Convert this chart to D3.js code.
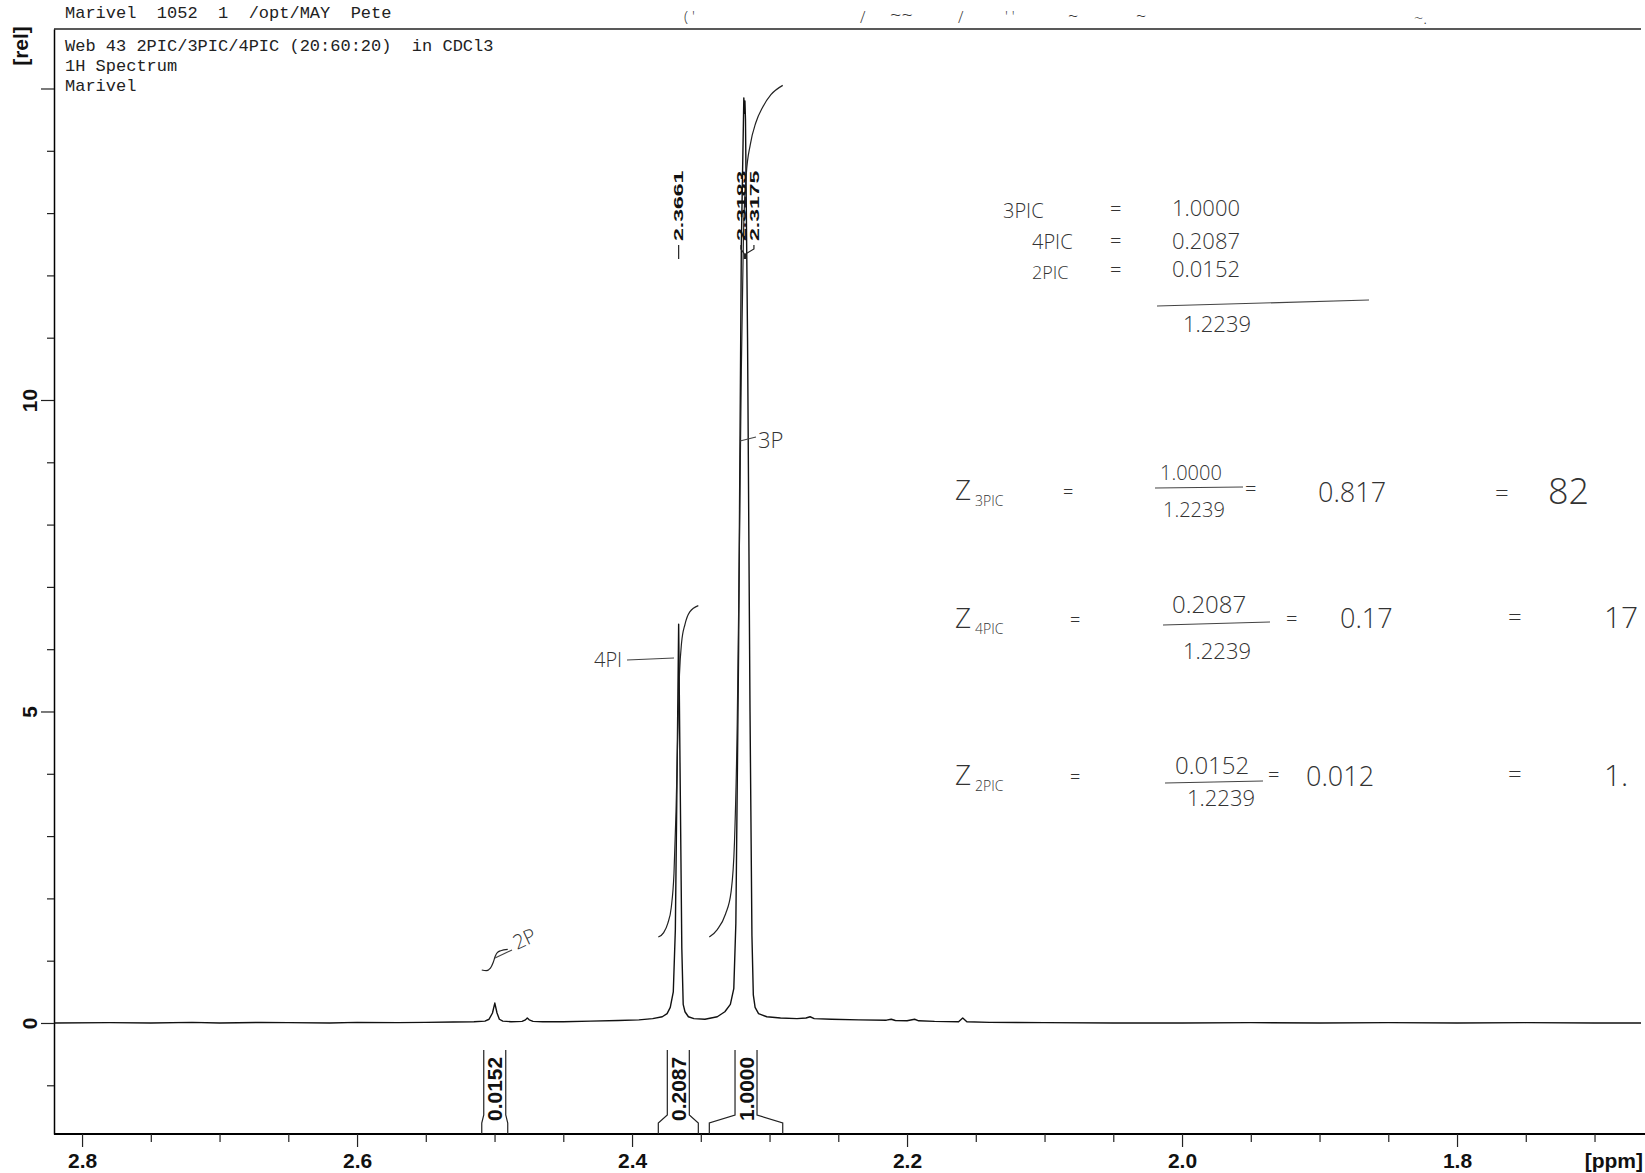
<!DOCTYPE html>
<html>
<head>
<meta charset="utf-8">
<script src="https://cdn.jsdelivr.net/npm/d3@7"></script>
<style>
  body { margin: 0; background: #fff; }
  svg { display: block; }
  .mono { font-family: "Liberation Mono", "DejaVu Sans Mono", monospace; font-size: 17px; fill: #222; white-space: pre; }
  .lab { font-family: "Liberation Sans", Arial, sans-serif; font-weight: bold; fill: #111; }
  .hand { font-family: "Open Sans", sans-serif; font-weight: 300; fill: #333; white-space: pre; }
</style>
</head>
<body>
<div id="viz-container"></div>
<script>

// spectrum trace (ppm, rel. intensity)
var specPpm = [2.8204, 2.78, 2.75, 2.72, 2.70, 2.67, 2.65, 2.62, 2.60, 2.57, 2.55, 2.53, 2.515, 2.507,
  2.504, 2.5015, 2.4998, 2.4982, 2.4965, 2.494, 2.488, 2.480, 2.4775, 2.4762, 2.4748, 2.472, 2.465,
  2.45, 2.43, 2.41, 2.395, 2.385, 2.378, 2.3745, 2.3722, 2.370, 2.3685, 2.3672, 2.3661, 2.3650, 2.3638,
  2.3628, 2.3615, 2.359, 2.355, 2.347, 2.338, 2.3325, 2.3285, 2.326, 2.3245, 2.3225, 2.3205, 2.3187,
  2.3183, 2.3179, 2.3175, 2.3160, 2.3142, 2.3128, 2.3118, 2.3105, 2.308, 2.302, 2.292, 2.280,
  2.2735, 2.2705, 2.2675, 2.255, 2.235, 2.215, 2.2115, 2.2085, 2.200, 2.1945, 2.1915, 2.180, 2.1625,
  2.1595, 2.1565, 2.14, 2.10, 2.05, 2.00, 1.95, 1.90, 1.85, 1.80, 1.75, 1.70, 1.6662];
var specInt = [0.0, 0.005, 0.0, 0.01, 0.0, 0.01, 0.005, 0.0, 0.01, 0.005, 0.01, 0.015, 0.02, 0.03,
  0.06, 0.16, 0.32, 0.16, 0.06, 0.03, 0.02, 0.025, 0.05, 0.08, 0.05, 0.025, 0.02,
  0.02, 0.03, 0.04, 0.05, 0.07, 0.1, 0.15, 0.25, 0.5, 1.5, 4.1, 6.4, 3.9, 1.2,
  0.3, 0.18, 0.1, 0.07, 0.06, 0.1, 0.18, 0.3, 0.55, 1.6, 6.0, 12.5, 14.85,
  14.6, 14.8, 14.5, 11.0, 5.0, 1.4, 0.45, 0.25, 0.15, 0.1, 0.08, 0.07,
  0.08, 0.1, 0.07, 0.06, 0.05, 0.045, 0.06, 0.04, 0.035, 0.06, 0.035, 0.025, 0.02,
  0.08, 0.02, 0.01, 0.005, 0.0, 0.0, 0.005, 0.0, 0.005, 0.0, 0.005, 0.0, 0.0];

// integral traces
var int2Ppm = [2.5093, 2.506, 2.503, 2.501, 2.4995, 2.498, 2.4955, 2.4904];
var int2Val = [0.85, 0.84, 0.88, 0.97, 1.07, 1.13, 1.16, 1.18];
var int4Ppm = [2.3809, 2.377, 2.374, 2.3715, 2.3695, 2.368, 2.3668, 2.3655, 2.364, 2.3615, 2.358, 2.3518];
var int4Val = [1.38, 1.45, 1.6, 1.85, 2.4, 3.4, 4.6, 5.6, 6.1, 6.4, 6.6, 6.7];
var int3Ppm = [2.3438, 2.338, 2.332, 2.328, 2.3255, 2.3235, 2.322, 2.3205, 2.319, 2.317, 2.314, 2.310, 2.305, 2.299, 2.2904];
var int3Val = [1.38, 1.5, 1.75, 2.1, 2.9, 4.8, 7.5, 10.5, 12.6, 13.6, 14.1, 14.45, 14.7, 14.9, 15.05];

var integralLabels = ['0.0152', '0.2087', '1.0000'];
var integralFrom = [2.5093, 2.3809, 2.3438];
var integralTo = [2.4904, 2.3518, 2.2904];

var peakLabels = ['2.3661', '2.3183', '2.3175'];
var peakPpm = [2.3661, 2.3183, 2.3175];

var xMajor = [2.8, 2.6, 2.4, 2.2, 2.0, 1.8];
var yMajor = [0, 5, 10, 15];
var yLabels = ['0', '5', '10', ''];

var headerTop = 'Marivel  1052  1  /opt/MAY  Pete';
var titleLines = ['Web 43 2PIC/3PIC/4PIC (20:60:20)  in CDCl3', '1H Spectrum', 'Marivel'];

var width = 1645, height = 1173;

var svg = d3.select('#viz-container')
  .append('svg')
  .attr('width', width)
  .attr('height', height);

var x = d3.scaleLinear().domain([2.8204, 1.6662]).range([54, 1641]);
var y = d3.scaleLinear().domain([-1.782, 15.955]).range([1134, 29]);

// frame top
svg.append('line')
  .attr('x1', 54).attr('x2', 1641)
  .attr('y1', 29).attr('y2', 29)
  .style('stroke', '#222').style('stroke-width', 1.3);

// x axis
var xMinor = d3.range(34, 57).filter(function (i) { return i % 4 != 0; }).map(function (i) { return i / 20; });

var gx = svg.append('g').attr('transform', 'translate(0,1134)');
gx.call(d3.axisBottom(x).tickValues(xMajor).tickSize(13).tickSizeOuter(0).tickPadding(6)
  .tickFormat(d3.format('.1f')));
gx.append('g').call(d3.axisBottom(x).tickValues(xMinor).tickSize(8).tickFormat(''))
  .select('.domain').remove();
gx.select('.domain').attr('d', 'M54,0H1645').style('stroke-width', 1.8);
gx.selectAll('line').style('stroke', '#222').style('stroke-width', 1.2);
gx.selectAll('text').attr('class', 'lab').style('font-size', '21px');

svg.append('text')
  .attr('class', 'lab')
  .attr('x', 1643).attr('y', 1168)
  .attr('text-anchor', 'end')
  .style('font-size', '21px')
  .text('[ppm]');

// y axis
var yMinor = d3.range(-1, 16).filter(function (d) { return d % 5 != 0; });

var gy = svg.append('g').attr('transform', 'translate(54,0)');
gy.call(d3.axisLeft(y).tickValues(yMajor).tickSize(13).tickSizeOuter(0)
  .tickFormat(function (d, i) { return yLabels[i]; }));
gy.append('g').call(d3.axisLeft(y).tickValues(yMinor).tickSize(7).tickFormat(''))
  .select('.domain').remove();
gy.selectAll('line').style('stroke', '#222').style('stroke-width', 1.2);
gy.select('.domain').style('stroke-width', 1.5);
gy.selectAll('.tick text')
  .attr('class', 'lab')
  .attr('x', null).attr('dy', null)
  .attr('text-anchor', 'middle')
  .attr('transform', 'translate(-17,0) rotate(-90)')
  .style('font-size', '21px');

svg.append('text')
  .attr('class', 'lab')
  .attr('transform', 'translate(28,46) rotate(-90)')
  .attr('text-anchor', 'middle')
  .style('font-size', '21px')
  .text('[rel]');

// header texts
svg.append('text').attr('class', 'mono').attr('x', 65).attr('y', 18).text(headerTop);
svg.selectAll('.title')
  .data(titleLines)
  .enter()
  .append('text')
  .attr('class', 'mono title')
  .attr('x', 65)
  .attr('y', function (d, i) { return 51 + i * 20; })
  .text(function (d) { return d; });

// spectrum
var line = d3.line()
  .x(function (d) { return x(d[0]); })
  .y(function (d) { return y(d[1]); });

svg.append('path')
  .datum(d3.zip(specPpm, specInt))
  .attr('d', line)
  .style('fill', 'none')
  .style('stroke', '#111')
  .style('stroke-width', 1.4)
  .style('stroke-linejoin', 'round');

// integral curves
var curve = d3.line()
  .x(function (d) { return x(d[0]); })
  .y(function (d) { return y(d[1]); })
  .curve(d3.curveMonotoneX);

[[int2Ppm, int2Val], [int4Ppm, int4Val], [int3Ppm, int3Val]].forEach(function (p) {
  svg.append('path')
    .datum(d3.zip(p[0], p[1]))
    .attr('d', curve)
    .style('fill', 'none')
    .style('stroke', '#222')
    .style('stroke-width', 1.2);
});

// integral brackets under the trace
var ig = svg.append('g');
integralLabels.forEach(function (lbl, i) {
  var x0 = x(integralFrom[i]), x1 = x(integralTo[i]);
  var c = (x0 + x1) / 2;
  var b0 = c - 11, b1 = c + 11;
  ig.append('path')
    .attr('d', 'M' + x0 + ',1134L' + x0 + ',1123L' + b0 + ',1115L' + b0 + ',1050' +
      'M' + x1 + ',1134L' + x1 + ',1123L' + b1 + ',1115L' + b1 + ',1050')
    .style('fill', 'none')
    .style('stroke', '#222')
    .style('stroke-width', 1.2);
  ig.append('text')
    .attr('class', 'lab')
    .attr('transform', 'translate(' + (c + 7.5) + ',1121) rotate(-90)')
    .style('font-size', '21px')
    .text(lbl);
});

// peak labels (narrow glyphs so the close pair doesn't collide)
var px = peakPpm.map(function (d) { return x(d); });
var mid = (px[1] + px[2]) / 2 + 2.5;
var lx = [px[0], mid - 6.5, mid + 6.5];
var pg = svg.append('g');
peakLabels.forEach(function (lbl, i) {
  pg.append('text')
    .attr('class', 'lab')
    .attr('transform', 'translate(' + (lx[i] + 4.8) + ',241) rotate(-90) scale(1,0.58)')
    .style('font-size', '23px')
    .text(lbl);
  pg.append('path')
    .attr('d', 'M' + lx[i] + ',245L' + lx[i] + ',249L' + px[i] + ',254L' + px[i] + ',259')
    .style('fill', 'none')
    .style('stroke', '#222')
    .style('stroke-width', 1.2);
});

// handwritten notes on the print
var notes = svg.append('g').attr('class', 'hand');
function note(t, x0, y0, size, rot) {
  var el = notes.append('text')
    .attr('x', x0).attr('y', y0)
    .style('font-size', size + 'px')
    .text(t);
  if (rot) el.attr('transform', 'rotate(' + rot + ',' + x0 + ',' + y0 + ')');
  return el;
}
function stroke(x1, y1, x2, y2) {
  notes.append('line')
    .attr('x1', x1).attr('y1', y1).attr('x2', x2).attr('y2', y2)
    .style('stroke', '#444').style('stroke-width', 1.2);
}

// scraps of writing cut off at the top edge
note('(  \'', 684, 22, 15);
note('/', 860, 23, 16);
note('~~', 890, 22, 20);
note('/', 958, 23, 16);
note('\'  \'', 1005, 22, 15);
note('~', 1068, 22, 18);
note('~', 1136, 22, 18);
note('~.', 1414, 24, 16);

note('3PIC', 1003, 218, 20);
note('=', 1110, 216, 20);
note('1.0000', 1172, 216, 22);
note('4PIC', 1032, 249, 20);
note('=', 1110, 248, 20);
note('0.2087', 1172, 249, 22);
note('2PIC', 1032, 279, 18);
note('=', 1110, 277, 20);
note('0.0152', 1172, 277, 22);
stroke(1157, 306, 1369, 300);
note('1.2239', 1183, 332, 22);

note('Z', 955, 500, 28);
note('3PIC', 975, 506, 14);
note('=', 1063, 498, 18);
note('1.0000', 1160, 480, 20);
stroke(1155, 488, 1243, 487);
note('1.2239', 1163, 517, 20);
note('=', 1245, 496, 20);
note('0.817', 1318, 502, 27);
note('=', 1495, 502, 24);
note('82', 1548, 504, 36);

note('Z', 955, 628, 28);
note('4PIC', 975, 634, 14);
note('=', 1070, 626, 18);
note('0.2087', 1172, 613, 24);
stroke(1163, 625, 1270, 622);
note('1.2239', 1183, 659, 22);
note('=', 1286, 626, 20);
note('0.17', 1340, 628, 27);
note('=', 1508, 626, 24);
note('17', 1604, 628, 30);

note('Z', 955, 785, 28);
note('2PIC', 975, 791, 14);
note('=', 1070, 783, 18);
note('0.0152', 1175, 774, 24);
stroke(1165, 783, 1263, 781);
note('1.2239', 1187, 806, 22);
note('=', 1268, 782, 20);
note('0.012', 1306, 786, 27);
note('=', 1508, 783, 24);
note('1.', 1604, 786, 30);

note('4PI', 594, 667, 20);
stroke(627, 660, 674, 658);
stroke(740, 441, 756, 437);
note('3P', 758, 448, 22);
stroke(495, 958, 512, 950);
note('2P', 517, 950, 20, -25);

</script>
</body>
</html>
